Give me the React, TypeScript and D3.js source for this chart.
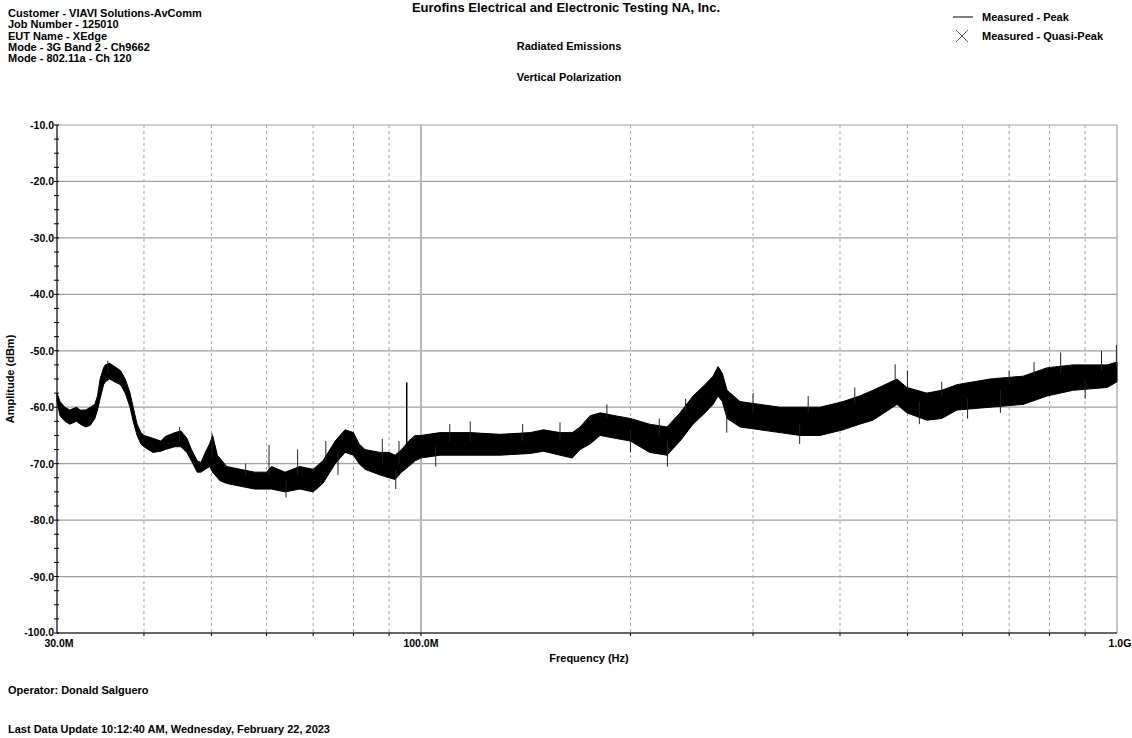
import React from "react";
import * as d3 from "d3";

const W = 1132;
const H = 738;

const headerLines = [
  "Customer - VIAVI Solutions-AvComm",
  "Job Number - 125010",
  "EUT Name - XEdge",
  "Mode - 3G Band 2 - Ch9662",
  "Mode - 802.11a - Ch 120",
];

const yTicks = [-10, -20, -30, -40, -50, -60, -70, -80, -90, -100];
const xGridMHz = [40, 50, 60, 70, 80, 90, 200, 300, 400, 500, 600, 700, 800, 900];
const xLabels = [
  { f: 30, text: "30.0M" },
  { f: 100, text: "100.0M" },
  { f: 1000, text: "1.0G" },
];

// Measured peak trace envelope (MHz, upper dBm, lower dBm)
const freqMHz = [
  30.0, 30.3, 30.8, 31.3, 32.0, 32.4, 33.0, 33.5, 34.0, 34.3, 34.6, 35.0, 35.2, 35.7, 36.3, 37.0,
  37.6, 38.2, 38.6, 39.1, 39.6, 40.0, 41.2, 42.3, 42.9, 44.3, 45.2, 46.1, 46.8, 47.7, 48.3, 49.0,
  49.7, 50.2, 51.0, 51.4, 52.6, 55.0, 57.7, 60.0, 61.0, 63.8, 67.0, 70.0, 72.3, 74.0, 75.3, 77.8,
  80.0, 81.5, 83.1, 87.3, 90.0, 91.8, 93.8, 96.0, 98.1, 100.0, 106.5, 117.7, 129.9, 143.5, 150.0,
  158.4, 165.0, 169.3, 175.0, 180.9, 190.0, 200.0, 213.0, 225.7, 235.6, 246.0, 255.9, 262.8, 267.2,
  271.0, 275.3, 287.4, 307.0, 328.0, 350.5, 374.6, 404.0, 427.0, 446.0, 483.0, 499.0, 533.0, 560.0,
  589.0, 657.0, 733.0, 794.0, 865.0, 968.0, 1000.0,
];
const peakHigh = [
  -57.5, -59.0, -60.0, -60.5, -60.0, -60.5, -60.5, -60.0, -59.5, -58.0, -55.0, -53.0, -52.5, -52.2, -52.8, -53.5,
  -55.0, -57.5, -60.0, -63.0, -64.5, -65.0, -65.5, -66.0, -65.2, -64.5, -64.2, -65.5, -67.5, -69.5, -69.8, -68.0,
  -66.5, -65.0, -68.5, -69.0, -70.5, -71.0, -71.5, -71.5, -70.5, -71.5, -70.5, -71.0, -69.5, -67.5, -66.0, -64.0,
  -64.5, -66.5, -67.5, -68.0, -68.0, -68.5, -67.5, -66.0, -65.0, -65.0, -64.5, -64.5, -64.8, -64.5, -64.0,
  -64.5, -64.5, -63.5, -61.5, -61.0, -61.5, -62.0, -63.0, -63.5, -61.0, -58.0, -56.0, -54.5, -52.8,
  -54.0, -57.0, -59.0, -59.5, -60.0, -60.0, -60.0, -59.0, -58.0, -57.0, -55.0, -56.5, -57.5, -57.0,
  -56.0, -55.0, -54.5, -53.0, -52.5, -52.5, -52.0,
];
const peakLow = [
  -59.0, -61.5, -62.5, -63.0, -62.5, -63.0, -63.5, -63.2, -62.0, -60.5, -58.5, -56.0, -55.5, -55.0, -55.5, -56.0,
  -57.5, -60.0, -62.5, -65.0, -66.5, -67.0, -68.0, -67.8, -67.5, -67.0, -67.0, -68.0, -69.5, -71.5, -71.5, -71.0,
  -70.5, -71.5, -72.5, -73.0, -73.5, -74.0, -74.5, -74.5, -74.5, -75.0, -74.5, -75.0, -73.5, -71.5, -70.0, -68.0,
  -68.5, -70.0, -71.0, -72.0, -72.5, -72.8, -71.5, -70.5, -69.5, -69.0, -68.5, -68.5, -68.5, -68.2, -67.8,
  -68.5, -69.0, -67.5, -66.5, -65.0, -65.5, -66.0, -68.0, -68.5, -66.0, -63.0, -61.0, -59.5, -58.0,
  -59.0, -62.0, -63.5, -64.0, -64.5, -65.0, -65.0, -64.0, -63.0, -62.3, -59.5, -61.0, -62.3, -62.0,
  -60.5, -60.0, -59.5, -58.0, -57.0, -56.5, -55.5,
];

// Isolated narrow spikes (MHz, top dBm, base dBm)
const spikeFreq = [
  95.4, 50.1, 60.5, 66.5, 88.0, 93.0, 117.7, 158.4, 480.0, 500.0, 830.0, 950.0, 998.0,
  35.5, 45.0, 56.0, 73.0, 110.0, 140.0, 185.0, 220.0, 240.0, 300.0, 360.0, 420.0, 560.0, 700.0, 760.0,
  64.0, 76.0, 92.0, 105.0, 200.0, 226.0, 275.0, 350.0, 520.0, 610.0, 680.0, 900.0,
];
const spikeTop = [
  -55.6, -64.6, -66.7, -67.5, -65.6, -66.0, -62.5, -62.7, -52.4, -53.5, -50.3, -50.0, -49.0,
  -51.8, -63.5, -70.0, -66.0, -63.0, -63.0, -59.5, -62.0, -58.5, -57.5, -58.0, -56.5, -55.5, -53.5, -52.0,
  -73.0, -68.0, -71.0, -67.0, -64.0, -66.0, -60.0, -63.0, -59.0, -58.5, -57.0, -55.0,
];
const spikeBase = [
  -70.5, -69.0, -72.0, -72.0, -70.0, -70.0, -66.0, -66.0, -56.0, -57.0, -54.0, -53.5, -53.0,
  -54.0, -66.0, -72.0, -70.0, -66.0, -66.0, -62.0, -65.0, -61.0, -61.0, -61.0, -59.5, -58.0, -56.0, -54.5,
  -76.0, -72.0, -74.5, -70.5, -68.0, -70.5, -64.5, -66.5, -63.0, -62.0, -61.0, -58.5,
];

const M = { left: 57, right: 1117, top: 125, bottom: 633 };

export default function App() {
  const x = d3.scaleLog().domain([30, 1000]).range([M.left, M.right]);
  const y = d3.scaleLinear().domain([-10, -100]).range([M.top, M.bottom]);

  const rows = freqMHz.map((f, i) => ({ f, hi: peakHigh[i], lo: peakLow[i] }));
  const area = d3
    .area<{ f: number; hi: number; lo: number }>()
    .x((d) => x(d.f))
    .y0((d) => y(d.lo))
    .y1((d) => y(d.hi));

  const minorTicks = d3.range(-10, -100.01, -2.5);
  const font = "'Liberation Sans', Arial, sans-serif";

  return (
    <svg
      width={W}
      height={H}
      style={{ position: "absolute", left: 0, top: 0, background: "#fff" }}
      fontFamily={font}
      fontWeight="bold"
    >
      {/* header */}
      {headerLines.map((t, i) => (
        <text key={t} x={8} y={17 + i * 11.3} fontSize={11}>
          {t}
        </text>
      ))}
      <text x={566} y={12} textAnchor="middle" fontSize={13}>
        Eurofins Electrical and Electronic Testing NA, Inc.
      </text>
      <text x={569} y={50} textAnchor="middle" fontSize={11}>
        Radiated Emissions
      </text>
      <text x={569} y={81} textAnchor="middle" fontSize={11}>
        Vertical Polarization
      </text>

      {/* legend */}
      <line x1={953} x2={973} y1={17} y2={17} stroke="#000" strokeWidth={1} />
      <text x={982} y={21} fontSize={11}>
        Measured - Peak
      </text>
      <g stroke="#5a5a9a" strokeWidth={1}>
        <line x1={956} x2={968} y1={30} y2={42} />
        <line x1={956} x2={968} y1={42} y2={30} />
      </g>
      <text x={982} y={40} fontSize={11}>
        Measured - Quasi-Peak
      </text>

      {/* grid */}
      {yTicks.map((v) => (
        <line key={v} x1={M.left} x2={M.right} y1={y(v)} y2={y(v)} stroke="#a0a0a0" strokeWidth={1.2} />
      ))}
      {xGridMHz.map((f) => (
        <line
          key={f}
          x1={x(f)}
          x2={x(f)}
          y1={M.top}
          y2={M.bottom}
          stroke="#a8a8a8"
          strokeWidth={1}
          strokeDasharray="3,3"
        />
      ))}
      <line x1={x(100)} x2={x(100)} y1={M.top} y2={M.bottom} stroke="#b8b8b8" strokeWidth={2} />
      <line x1={M.right} x2={M.right} y1={M.top} y2={M.bottom} stroke="#a0a0a0" strokeWidth={1.2} />

      {/* trace */}
      <path d={area(rows) || ""} fill="#000" stroke="#000" strokeWidth={1} strokeLinejoin="round" />
      {spikeFreq.map((f, i) => (
        <line
          key={i}
          x1={x(f)}
          x2={x(f)}
          y1={y(spikeTop[i])}
          y2={y(spikeBase[i])}
          stroke={i === 0 ? "#000" : "#222"}
          strokeWidth={i === 0 ? 1.5 : 1}
        />
      ))}

      {/* axes */}
      <line x1={M.left} x2={M.left} y1={M.top} y2={M.bottom} stroke="#000" strokeWidth={1.2} />
      <line x1={M.left} x2={M.right} y1={M.bottom} y2={M.bottom} stroke="#000" strokeWidth={1.2} />
      {minorTicks.map((v) => (
        <line key={v} x1={M.left - 3} x2={M.left + 2} y1={y(v)} y2={y(v)} stroke="#000" strokeWidth={1} />
      ))}
      {xGridMHz.concat([100]).map((f) => (
        <line key={"t" + f} x1={x(f)} x2={x(f)} y1={M.bottom} y2={M.bottom + 3} stroke="#000" strokeWidth={1} />
      ))}
      {yTicks.map((v) => (
        <text
          key={"l" + v}
          x={M.left - 3}
          y={v === -100 ? y(v) + 2.5 : y(v) + 4}
          textAnchor="end"
          fontSize={10.5}
        >
          {v.toFixed(1)}
        </text>
      ))}
      {xLabels.map((d) => (
        <text
          key={d.text}
          x={d.f === 1000 ? x(d.f) + 3 : d.f === 30 ? x(d.f) + 2 : x(d.f)}
          y={646.5}
          textAnchor="middle"
          fontSize={10.5}
        >
          {d.text}
        </text>
      ))}
      <text x={589} y={662} textAnchor="middle" fontSize={11}>
        Frequency (Hz)
      </text>
      <text
        transform={`translate(14,${(M.top + M.bottom) / 2}) rotate(-90)`}
        textAnchor="middle"
        fontSize={11}
      >
        Amplitude (dBm)
      </text>

      {/* footer */}
      <text x={8} y={694} fontSize={11}>
        Operator: Donald Salguero
      </text>
      <text x={8} y={733} fontSize={11}>
        Last Data Update 10:12:40 AM, Wednesday, February 22, 2023
      </text>
    </svg>
  );
}
